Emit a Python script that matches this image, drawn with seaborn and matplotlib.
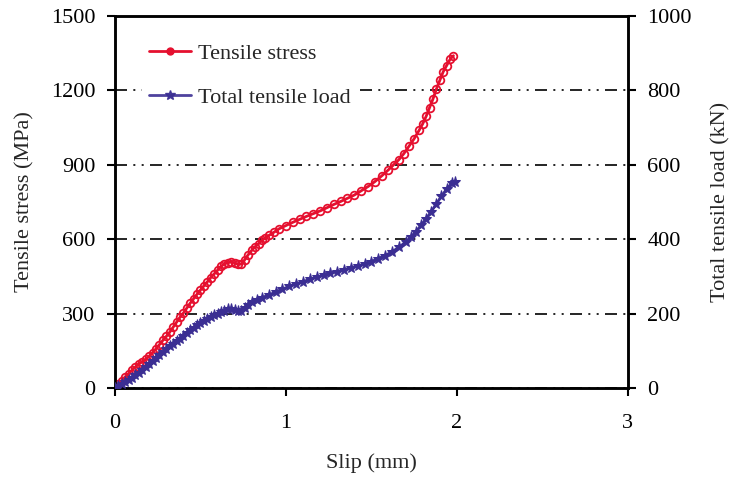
import numpy as np
import matplotlib
matplotlib.use("Agg")
import matplotlib.pyplot as plt
import seaborn as sns
from matplotlib.lines import Line2D

# Tensile stress (MPa) vs slip (mm)
stress_slip = [0.00, 0.02, 0.04, 0.06, 0.08, 0.10, 0.12, 0.14, 0.16, 0.18,
               0.20, 0.22, 0.24, 0.26, 0.28, 0.30, 0.32, 0.34, 0.36, 0.38,
               0.40, 0.42, 0.44, 0.46, 0.48, 0.50, 0.52, 0.54, 0.56, 0.58,
               0.60, 0.62, 0.64, 0.66, 0.68, 0.70, 0.72, 0.74, 0.76, 0.78,
               0.80, 0.82, 0.84, 0.86, 0.88, 0.90, 0.93, 0.96, 1.00, 1.04,
               1.08, 1.12, 1.16, 1.20, 1.24, 1.28, 1.32, 1.36, 1.40, 1.44,
               1.48, 1.52, 1.56, 1.60, 1.63, 1.66, 1.69, 1.72, 1.75, 1.78,
               1.80, 1.82, 1.84, 1.86, 1.88, 1.90, 1.92, 1.94, 1.96, 1.98]
stress = [0, 15, 30, 45, 58, 72, 85, 98, 105, 115,
          128, 142, 158, 175, 192, 208, 225, 245, 265, 285,
          302, 322, 342, 360, 378, 395, 412, 428, 445, 460,
          475, 490, 500, 505, 508, 505, 498, 500, 518, 538,
          555, 570, 582, 595, 605, 615, 628, 642, 655, 668,
          680, 692, 703, 714, 727, 740, 752, 765, 778, 795,
          812, 832, 855, 880, 900, 920, 945, 975, 1005, 1040,
          1065, 1095, 1130, 1165, 1205, 1240, 1275, 1300, 1325, 1340]

# Total tensile load (kN) vs slip (mm)
load_slip = [0.00, 0.02, 0.04, 0.06, 0.08, 0.10, 0.12, 0.14, 0.16, 0.18,
             0.20, 0.22, 0.24, 0.26, 0.28, 0.30, 0.32, 0.34, 0.36, 0.38,
             0.40, 0.42, 0.44, 0.46, 0.48, 0.50, 0.52, 0.54, 0.56, 0.58,
             0.60, 0.62, 0.64, 0.66, 0.68, 0.70, 0.72, 0.74, 0.76, 0.78,
             0.80, 0.83, 0.86, 0.90, 0.94, 0.98, 1.02, 1.06, 1.10, 1.14,
             1.18, 1.22, 1.26, 1.30, 1.34, 1.38, 1.42, 1.46, 1.50, 1.54,
             1.58, 1.62, 1.66, 1.70, 1.73, 1.76, 1.79, 1.82, 1.85, 1.88,
             1.91, 1.94, 1.97, 1.99]
load = [0, 5, 10, 16, 22, 28, 34, 40, 48, 56,
        65, 72, 80, 88, 96, 104, 112, 119, 126, 133,
        140, 148, 155, 162, 168, 175, 181, 186, 191, 196,
        200, 204, 208, 211, 212, 210, 207, 208, 216, 224,
        230, 237, 243, 250, 258, 266, 273, 280, 286, 292,
        298, 303, 308, 313, 318, 323, 328, 333, 340, 348,
        356, 366, 378, 392, 405, 420, 437, 455, 474, 495,
        515, 535, 550, 555]

red = "#e5102f"
blue = "#3b2e93"

sns.set_theme(style="ticks")
plt.rcParams["font.family"] = ["Liberation Serif", "DejaVu Serif"]

fig = plt.figure(figsize=(7.3, 4.79), dpi=100)
ax = fig.add_axes([0.1575, 0.19, 0.7025, 0.7766])
ax2 = ax.twinx()

sns.lineplot(x=stress_slip, y=stress, ax=ax, color=red, lw=2.0, marker="o",
             markersize=5.5, markerfacecolor="none", markeredgecolor=red,
             markeredgewidth=1.3, zorder=3)
sns.lineplot(x=load_slip, y=load, ax=ax2, color=blue, lw=2.0, marker="*",
             markersize=8, markeredgecolor=blue, markerfacecolor=blue,
             zorder=3)

ax.set_xlim(0, 3)
ax.set_ylim(0, 1500)
ax2.set_ylim(0, 1000)
ax.set_xticks([0, 1, 2, 3])
ax.set_yticks([0, 300, 600, 900, 1200, 1500])
ax2.set_yticks([0, 200, 400, 600, 800, 1000])

ax.grid(axis="y", color="black", lw=1.2,
        linestyle=(0, (7.2, 3.8, 1.2, 3.8, 1.2, 3.8)))
ax.set_axisbelow(True)

fs = 16
ax.set_xlabel("Slip (mm)", fontsize=fs, labelpad=14)
ax.set_ylabel("Tensile stress (MPa)", fontsize=fs, labelpad=12)
ax2.set_ylabel("Total tensile load (kN)", fontsize=fs, labelpad=14)

for a in (ax, ax2):
    a.tick_params(direction="out", length=6, width=1.5, labelsize=fs,
                  colors="black", pad=8)
    for s in a.spines.values():
        s.set_visible(True)
        s.set_linewidth(1.8)
        s.set_color("black")
ax.tick_params(axis="x", pad=13)

handles = [
    Line2D([], [], color=red, lw=2.0, marker="o", markersize=5,
           markerfacecolor=red, markeredgecolor=red),
    Line2D([], [], color=blue, lw=2.0, alpha=0.9, marker="*", markersize=7,
           markerfacecolor=blue, markeredgecolor=blue),
]
leg = ax2.legend(handles, ["Tensile stress", "Total tensile load"],
                 loc="upper left", bbox_to_anchor=(0.031, 0.975),
                 fontsize=fs, frameon=True, facecolor="white",
                 edgecolor="white", framealpha=1, handlelength=1.9,
                 handletextpad=0.3, labelspacing=1.05, borderpad=0.3)
leg.get_frame().set_linewidth(0)

fig.savefig("out.png", dpi=100)
